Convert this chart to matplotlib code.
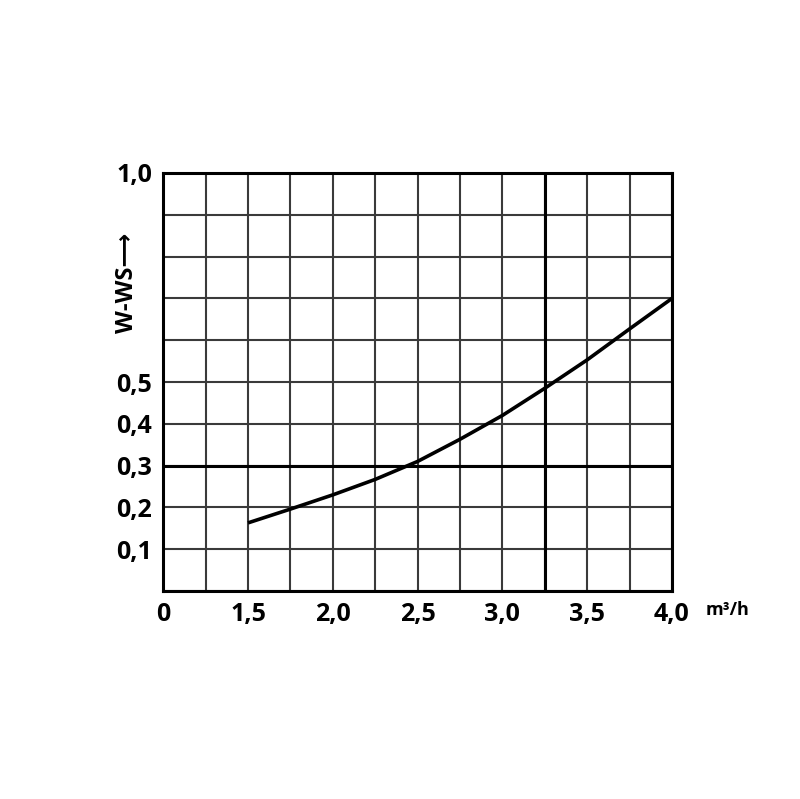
import numpy as np
from matplotlib import pyplot as plt

plt.rcParams["font.family"] = ["Open Sans", "DejaVu Sans"]

# flow (m3/h) and pressure loss
flow = [1.5, 1.75, 2.0, 2.25, 2.5, 2.75, 3.0, 3.25, 3.5, 3.75, 4.0]
loss = [0.163, 0.196, 0.23, 0.267, 0.31, 0.363, 0.42, 0.485, 0.553, 0.627, 0.70]

x_tick_labels = ["0", "", "1,5", "", "2,0", "", "2,5", "", "3,0", "", "3,5", "", "4,0"]
y_tick_labels = ["", "0,1", "0,2", "0,3", "0,4", "0,5", "", "", "", "", "1,0"]


def to_grid(q):
    # broken axis: 0 .. 1,5 takes two columns, then 0,5 per two columns
    return 2 + (np.asarray(q) - 1.5) * 4


fig = plt.figure(figsize=(8, 7.99), dpi=100)
ax = fig.add_axes([0.204, 0.2603, 0.636, 0.5232])

ax.plot(to_grid(flow), loss, color="black", lw=2.6, solid_capstyle="butt",
        solid_joinstyle="round", zorder=4)

ax.set_xlim(0, 12)
ax.set_ylim(0, 1.0)
ax.set_xticks(np.arange(13), x_tick_labels)
ax.set_yticks(np.arange(11) / 10, y_tick_labels)
ax.tick_params(length=0, labelsize=18, pad=8)
for lab in ax.get_xticklabels() + ax.get_yticklabels():
    lab.set_fontweight("bold")
ax.grid(True, color="#3a3a3a", lw=1.5)
ax.axvline(to_grid(3.25), color="black", lw=2.2, zorder=3)
ax.axhline(0.3, color="black", lw=2.2, zorder=3)
for s in ax.spines.values():
    s.set_linewidth(2.2)
    s.set_color("black")

ax.text(1.11, -0.045, "m³/h", transform=ax.transAxes, fontsize=13,
        fontweight="bold", ha="center", va="center")
fig.text(0.159, 0.646, "W-WS\u27f6", rotation=90, fontsize=17,
         fontweight="bold", ha="center", va="center")

fig.savefig("out.png", dpi=100)
